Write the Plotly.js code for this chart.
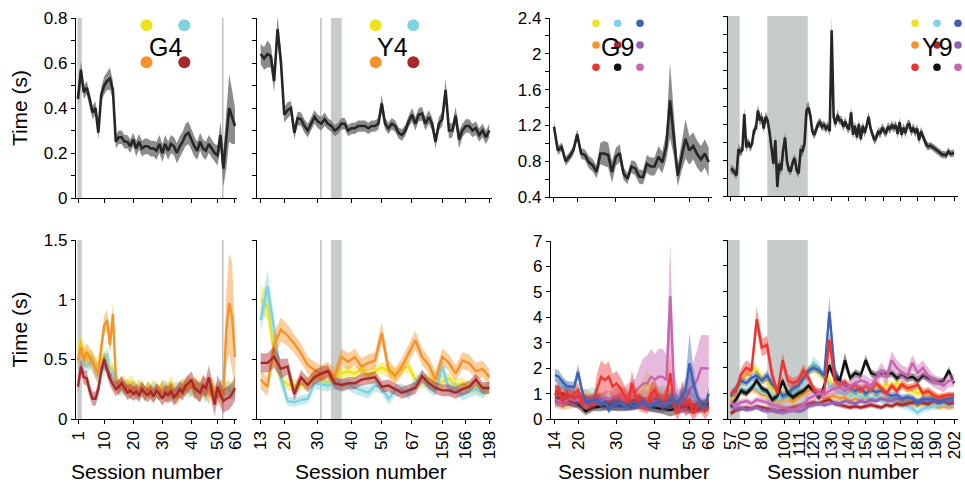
<!DOCTYPE html>
<html><head><meta charset="utf-8">
<script src="https://cdn.plot.ly/plotly-3.0.1.min.js"></script>
<style>html,body{margin:0;padding:0;background:#fff}#chart{width:965px;height:482px}</style>
</head><body><div id="chart"></div>
<script>
// ---------- tick labels (session numbers) ----------
const g4Ticks = ['1','10','20','30','40','50','60'];
const g4TickSlots = [0,9,19,29,39,48,54];
const y4Ticks = ['13','20','30','40','50','67','150','166','198'];
const y4TickSlots = [0,7,17,27,36,45,54,61,68];
const g9Ticks = ['14','20','30','40','50','60'];
const g9TickSlots = [0,6,16,26,35,40];
const y9Ticks = ['57','70','80','100','111','120','130','140','150','160','170','180','190','202'];
const y9TickSlots = [0,8,18,31,40,48,58,68,78,88,98,108,118,129];

// ---------- top row: mean time (s) and SEM ----------
const g4Mean = [0.44,0.57,0.47,0.49,0.44,0.38,0.40,0.29,0.46,0.50,
  0.52,0.53,0.48,0.25,0.27,0.27,0.25,0.25,0.23,0.26,
  0.22,0.25,0.22,0.23,0.23,0.22,0.22,0.21,0.24,0.20,
  0.24,0.21,0.24,0.23,0.20,0.23,0.25,0.28,0.29,0.26,
  0.23,0.21,0.25,0.22,0.21,0.24,0.22,0.20,0.19,0.28,
  0.13,0.25,0.40,0.36,0.32];
const g4Err = [0.03,0.04,0.03,0.03,0.03,0.03,0.03,0.03,0.03,0.04,
  0.04,0.05,0.04,0.03,0.03,0.03,0.03,0.03,0.03,0.03,
  0.035,0.035,0.035,0.035,0.035,0.035,0.035,0.04,0.04,0.04,
  0.04,0.04,0.04,0.04,0.045,0.045,0.045,0.05,0.05,0.045,
  0.045,0.04,0.04,0.04,0.04,0.04,0.04,0.04,0.045,0.06,
  0.08,0.12,0.15,0.12,0.08];

const y4Mean = [0.64,0.62,0.64,0.63,0.52,0.75,0.61,0.37,0.39,0.40,
  0.29,0.355,0.35,0.32,0.30,0.33,0.36,0.34,0.33,0.35,
  0.33,0.32,0.30,0.31,0.33,0.33,0.30,0.31,0.31,0.32,
  0.32,0.32,0.31,0.32,0.32,0.33,0.42,0.33,0.31,0.33,
  0.32,0.29,0.28,0.30,0.34,0.37,0.33,0.37,0.375,0.33,
  0.36,0.33,0.25,0.33,0.35,0.48,0.30,0.30,0.366,0.26,
  0.30,0.32,0.32,0.30,0.31,0.28,0.30,0.27,0.30];
const y4Err = [0.045,0.05,0.06,0.05,0.05,0.06,0.05,0.035,0.035,0.03,
  0.03,0.03,0.03,0.03,0.03,0.03,0.03,0.03,0.03,0.03,
  0.025,0.025,0.025,0.025,0.025,0.025,0.025,0.025,0.025,0.025,
  0.025,0.025,0.025,0.025,0.025,0.025,0.04,0.025,0.025,0.025,
  0.025,0.025,0.025,0.025,0.025,0.03,0.03,0.03,0.03,0.03,
  0.03,0.03,0.03,0.03,0.03,0.05,0.035,0.03,0.04,0.04,
  0.03,0.03,0.03,0.03,0.03,0.03,0.03,0.03,0.03];

const g9Mean = [1.185,0.92,0.96,0.80,0.85,0.92,1.10,0.886,0.87,0.79,
  0.755,0.68,0.886,0.886,0.87,0.68,0.85,0.89,0.66,0.605,
  0.74,0.72,0.63,0.62,0.77,0.74,0.74,0.85,0.785,0.96,
  1.48,1.07,0.64,0.85,1.05,0.92,0.97,0.88,0.82,0.886,
  0.79];
const g9Err = [0.06,0.05,0.05,0.05,0.05,0.05,0.06,0.06,0.06,0.07,
  0.07,0.07,0.12,0.14,0.14,0.12,0.10,0.10,0.07,0.06,
  0.07,0.08,0.08,0.08,0.10,0.10,0.10,0.12,0.12,0.15,
  0.42,0.22,0.12,0.16,0.22,0.16,0.15,0.15,0.15,0.16,
  0.16];

const y9Mean = [0.70,0.69,0.66,0.63,0.92,0.89,0.91,1.31,0.94,1.00,
  0.94,0.98,1.13,1.15,1.35,1.24,1.28,1.15,1.28,1.24,
  1.11,0.93,0.76,1.02,0.50,0.76,0.685,0.91,1.05,0.78,
  0.685,0.68,0.78,0.82,0.68,0.65,0.91,0.90,0.98,1.35,
  1.38,1.30,1.12,1.08,1.13,1.20,1.22,1.17,1.19,1.15,
  1.18,1.12,2.24,1.28,1.20,1.30,1.24,1.24,1.17,1.23,
  1.16,1.15,1.33,1.08,1.18,1.05,1.20,1.03,1.18,1.10,
  1.18,1.28,1.15,1.09,1.02,1.05,1.12,1.09,1.16,1.12,
  1.10,1.17,1.14,1.19,1.15,1.19,1.09,1.22,1.08,1.16,
  1.10,1.19,1.20,1.11,1.16,1.10,1.15,1.02,1.12,1.06,
  1.00,0.96,0.95,0.96,0.94,0.93,0.91,0.89,0.87,0.86,
  0.86,0.85,0.90,0.87,0.87,0.88];
const y9Err = [0.05,0.05,0.05,0.05,0.06,0.05,0.05,0.07,0.06,0.05,
  0.05,0.05,0.05,0.05,0.07,0.06,0.06,0.05,0.06,0.05,
  0.05,0.06,0.06,0.06,0.07,0.06,0.06,0.06,0.06,0.06,
  0.05,0.05,0.05,0.05,0.05,0.05,0.06,0.06,0.06,0.07,
  0.07,0.07,0.05,0.05,0.05,0.05,0.05,0.05,0.05,0.05,
  0.05,0.06,0.15,0.08,0.05,0.06,0.05,0.05,0.05,0.05,
  0.05,0.05,0.06,0.05,0.05,0.05,0.05,0.05,0.05,0.05,
  0.05,0.06,0.05,0.05,0.05,0.05,0.05,0.05,0.05,0.05,
  0.05,0.05,0.05,0.05,0.05,0.05,0.05,0.05,0.05,0.05,
  0.05,0.05,0.05,0.05,0.05,0.05,0.05,0.05,0.05,0.05,
  0.045,0.045,0.04,0.04,0.04,0.04,0.04,0.04,0.04,0.04,
  0.04,0.04,0.04,0.04,0.04,0.04];

// ---------- bottom row: per-colour time (s) and SEM ----------
// G4 (55 sessions)
const g4bYellow = [0.58,0.63,0.55,0.52,0.50,0.52,0.44,0.47,0.50,0.52,
  0.48,0.45,0.40,0.30,0.27,0.28,0.30,0.26,0.32,0.27,
  0.25,0.28,0.24,0.22,0.26,0.24,0.27,0.25,0.22,0.28,
  0.24,0.26,0.30,0.25,0.22,0.24,0.27,0.25,0.28,0.24,
  0.26,0.30,0.23,0.25,0.21,0.24,0.27,0.22,0.24,0.26,
  0.22,0.25,0.27,0.24,0.25];
const g4bYellowErr = [0.08,0.08,0.08,0.07,0.07,0.07,0.07,0.07,0.07,0.07,
  0.06,0.06,0.06,0.06,0.06,0.06,0.06,0.06,0.06,0.06,
  0.06,0.06,0.06,0.06,0.06,0.06,0.06,0.06,0.06,0.06,
  0.06,0.06,0.06,0.06,0.06,0.06,0.06,0.06,0.06,0.06,
  0.06,0.06,0.06,0.06,0.06,0.06,0.06,0.06,0.06,0.06,
  0.06,0.06,0.06,0.06,0.06];
const g4bCyan = [0.47,0.49,0.46,0.44,0.47,0.49,0.40,0.35,0.44,0.41,
  0.55,0.35,0.40,0.30,0.26,0.25,0.28,0.24,0.23,0.27,
  0.22,0.26,0.24,0.20,0.25,0.22,0.26,0.23,0.21,0.25,
  0.27,0.22,0.19,0.24,0.26,0.22,0.25,0.28,0.23,0.26,
  0.22,0.25,0.27,0.23,0.20,0.26,0.24,0.21,0.25,0.28,
  0.23,0.26,0.24,0.22,0.25];
const g4bCyanErr = [0.06,0.06,0.06,0.06,0.06,0.06,0.06,0.06,0.06,0.06,
  0.07,0.06,0.06,0.06,0.06,0.06,0.06,0.06,0.06,0.06,
  0.06,0.06,0.06,0.06,0.06,0.06,0.06,0.06,0.06,0.06,
  0.06,0.06,0.06,0.06,0.06,0.06,0.06,0.06,0.06,0.06,
  0.06,0.06,0.06,0.06,0.06,0.06,0.06,0.06,0.06,0.06,
  0.06,0.06,0.06,0.06,0.06];
const g4bOrange = [0.49,0.60,0.49,0.56,0.52,0.47,0.42,0.38,0.60,0.78,
  0.83,0.62,0.88,0.35,0.26,0.30,0.25,0.28,0.22,0.26,
  0.24,0.22,0.27,0.21,0.25,0.23,0.20,0.24,0.22,0.26,
  0.20,0.23,0.25,0.21,0.18,0.24,0.27,0.25,0.30,0.26,
  0.28,0.24,0.22,0.30,0.25,0.20,0.28,0.22,0.18,0.25,
  0.20,0.75,0.97,0.86,0.52];
const g4bOrangeErr = [0.08,0.08,0.08,0.08,0.08,0.08,0.08,0.08,0.08,0.08,
  0.09,0.09,0.09,0.07,0.06,0.06,0.06,0.06,0.06,0.06,
  0.06,0.06,0.06,0.06,0.06,0.06,0.06,0.06,0.06,0.06,
  0.07,0.07,0.07,0.07,0.07,0.07,0.07,0.07,0.07,0.07,
  0.08,0.08,0.08,0.08,0.08,0.08,0.08,0.08,0.08,0.08,
  0.12,0.30,0.42,0.45,0.25];
const g4bDarkred = [0.27,0.44,0.35,0.34,0.24,0.17,0.17,0.25,0.40,0.50,
  0.41,0.34,0.29,0.25,0.27,0.30,0.26,0.22,0.24,0.21,
  0.23,0.20,0.25,0.22,0.20,0.23,0.19,0.24,0.21,0.17,
  0.22,0.20,0.23,0.18,0.21,0.25,0.22,0.28,0.30,0.33,
  0.26,0.24,0.22,0.28,0.26,0.35,0.24,0.12,0.27,0.20,
  0.15,0.17,0.18,0.21,0.26];
const g4bDarkredErr = [0.06,0.06,0.06,0.06,0.06,0.06,0.06,0.06,0.06,0.06,
  0.06,0.06,0.06,0.06,0.06,0.06,0.06,0.06,0.06,0.06,
  0.06,0.06,0.06,0.06,0.06,0.06,0.06,0.06,0.06,0.06,
  0.07,0.07,0.07,0.07,0.07,0.07,0.07,0.07,0.07,0.07,
  0.08,0.08,0.08,0.08,0.08,0.10,0.10,0.10,0.10,0.10,
  0.10,0.10,0.10,0.10,0.10];

// Y4 (every other session slot, 35 points)
const y4bYellow = [1.00,0.95,0.55,0.33,0.29,0.28,0.29,0.30,0.36,0.34,
  0.30,0.36,0.38,0.40,0.38,0.42,0.36,0.40,0.43,0.40,
  0.37,0.42,0.44,0.33,0.30,0.34,0.29,0.31,0.34,0.28,
  0.30,0.26,0.27,0.24,0.26];
const y4bYellowErr = [0.12,0.12,0.10,0.06,0.05,0.05,0.05,0.05,0.05,0.05,
  0.05,0.05,0.05,0.05,0.05,0.05,0.05,0.05,0.05,0.05,
  0.05,0.05,0.05,0.05,0.05,0.05,0.05,0.05,0.05,0.05,
  0.05,0.05,0.05,0.05,0.05];
const y4bCyan = [0.83,1.11,0.75,0.35,0.15,0.14,0.16,0.17,0.30,0.29,
  0.28,0.30,0.27,0.29,0.26,0.24,0.22,0.28,0.26,0.17,
  0.24,0.25,0.21,0.30,0.35,0.27,0.24,0.44,0.25,0.26,
  0.20,0.23,0.25,0.22,0.27];
const y4bCyanErr = [0.10,0.14,0.12,0.08,0.04,0.04,0.04,0.04,0.05,0.05,
  0.05,0.05,0.05,0.05,0.05,0.05,0.05,0.05,0.05,0.05,
  0.05,0.05,0.05,0.05,0.06,0.05,0.05,0.08,0.05,0.05,
  0.05,0.05,0.05,0.05,0.05];
const y4bOrange = [0.33,0.27,0.62,0.75,0.70,0.63,0.55,0.45,0.41,0.38,
  0.41,0.36,0.52,0.48,0.52,0.44,0.47,0.49,0.72,0.42,
  0.36,0.44,0.55,0.66,0.52,0.45,0.33,0.52,0.47,0.38,
  0.49,0.47,0.40,0.42,0.35];
const y4bOrangeErr = [0.08,0.08,0.10,0.10,0.09,0.08,0.08,0.07,0.07,0.07,
  0.07,0.07,0.07,0.07,0.07,0.07,0.07,0.07,0.09,0.07,
  0.07,0.07,0.07,0.08,0.07,0.07,0.07,0.07,0.07,0.07,
  0.07,0.07,0.07,0.07,0.07];
const y4bDarkred = [0.47,0.47,0.52,0.42,0.44,0.21,0.35,0.285,0.35,0.38,
  0.40,0.30,0.285,0.30,0.30,0.33,0.34,0.35,0.27,0.28,
  0.25,0.22,0.24,0.26,0.36,0.30,0.26,0.24,0.24,0.22,
  0.25,0.27,0.33,0.26,0.26];
const y4bDarkredErr = [0.08,0.08,0.09,0.08,0.07,0.06,0.06,0.06,0.06,0.06,
  0.05,0.05,0.05,0.05,0.05,0.05,0.05,0.05,0.05,0.05,
  0.05,0.05,0.05,0.05,0.05,0.05,0.05,0.05,0.05,0.05,
  0.05,0.05,0.05,0.05,0.05];

// G9 (41 sessions for blue/red/pink, every other for the rest)
const g9bBlue = [1.73,1.66,1.45,1.30,1.27,1.27,1.86,1.14,0.68,0.72,
  0.75,0.75,0.62,0.68,0.35,0.55,0.58,0.62,0.50,0.48,
  0.55,0.51,0.58,0.65,0.55,0.48,0.62,0.68,0.55,0.50,
  0.81,0.75,0.68,0.88,1.14,2.19,1.40,0.88,0.55,0.48,
  1.00];
const g9bBlueErr = [0.25,0.25,0.22,0.20,0.20,0.20,0.30,0.20,0.15,0.15,
  0.15,0.15,0.15,0.15,0.15,0.15,0.15,0.15,0.15,0.15,
  0.15,0.15,0.15,0.15,0.15,0.15,0.20,0.20,0.20,0.20,
  0.25,0.25,0.25,0.30,0.50,1.20,0.60,0.30,0.20,0.20,
  0.25];
const g9bRed = [0.94,1.20,0.68,1.07,0.88,1.00,1.14,0.62,0.70,0.60,
  0.65,1.20,1.66,1.53,1.66,1.27,1.40,1.20,0.95,0.62,
  1.40,0.88,0.60,0.55,0.50,1.00,1.14,0.80,0.62,0.90,
  1.80,0.50,0.22,1.00,0.60,0.75,0.20,0.48,0.55,0.29,
  0.48];
const g9bRedErr = [0.30,0.30,0.30,0.30,0.30,0.30,0.30,0.30,0.30,0.30,
  0.30,0.60,0.65,0.60,0.60,0.50,0.50,0.45,0.40,0.30,
  0.50,0.40,0.30,0.30,0.30,0.40,0.40,0.30,0.30,0.35,
  0.80,0.30,0.30,0.50,0.50,0.50,0.30,0.30,0.30,0.30,
  0.30];
const g9bPink = [0.75,0.70,0.65,0.72,0.80,0.70,0.78,0.65,0.60,0.72,
  0.68,0.75,0.70,0.82,0.78,0.85,0.90,0.95,0.85,1.00,
  1.05,1.10,1.25,1.40,1.40,1.66,1.55,1.66,1.66,1.53,
  4.83,1.14,0.68,0.75,0.75,1.14,1.30,1.53,2.00,2.00,
  1.99];
const g9bPinkErr = [0.20,0.20,0.20,0.20,0.20,0.20,0.20,0.20,0.20,0.20,
  0.20,0.20,0.25,0.30,0.30,0.30,0.35,0.40,0.40,0.40,
  0.45,0.50,0.80,1.00,1.10,1.10,1.00,1.10,1.10,1.00,
  2.10,0.70,0.50,0.50,0.50,0.60,0.90,1.20,1.30,1.30,
  1.30];
const g9bYellow = [0.90,0.75,0.80,0.70,0.65,0.60,0.70,0.75,0.80,0.90,0.85,0.95,1.40,1.00,0.90,0.80,0.60,0.70,0.50,0.55,0.60];
const g9bYellowErr = [0.25,0.20,0.20,0.20,0.20,0.20,0.20,0.25,0.30,0.35,0.30,0.30,0.50,0.35,0.30,0.30,0.25,0.25,0.20,0.20,0.20];
const g9bCyan = [1.25,1.30,1.10,1.00,0.90,1.00,0.85,0.80,0.75,0.70,0.65,0.70,0.80,0.85,1.00,0.90,0.80,0.85,0.70,0.60,0.65];
const g9bCyanErr = [0.30,0.30,0.25,0.25,0.25,0.25,0.20,0.20,0.20,0.20,0.20,0.25,0.25,0.30,0.35,0.30,0.30,0.30,0.25,0.20,0.20];
const g9bOrange = [0.65,0.50,0.60,0.75,0.90,0.70,0.80,0.65,0.70,0.90,0.75,0.80,0.85,1.00,0.75,0.90,0.60,0.55,0.45,0.50,0.60];
const g9bOrangeErr = [0.20,0.15,0.20,0.25,0.30,0.25,0.25,0.20,0.25,0.30,0.30,0.30,0.30,0.35,0.30,0.30,0.25,0.20,0.20,0.20,0.20];
const g9bDarkred = [1.10,1.00,0.85,0.90,0.70,0.75,0.80,0.65,0.70,0.60,0.75,0.70,0.65,0.80,0.70,0.75,0.50,0.60,0.55,0.45,0.50];
const g9bDarkredErr = [0.25,0.25,0.20,0.20,0.20,0.20,0.20,0.20,0.20,0.20,0.20,0.20,0.20,0.25,0.25,0.25,0.20,0.20,0.20,0.20,0.20];
const g9bPurple = [0.70,0.65,0.75,0.60,0.55,0.50,0.55,0.45,0.50,0.50,0.45,0.55,0.50,0.45,0.40,0.50,0.45,0.40,0.35,0.40,0.45];
const g9bPurpleErr = [0.20,0.20,0.20,0.15,0.15,0.15,0.15,0.15,0.15,0.15,0.15,0.15,0.15,0.15,0.15,0.20,0.20,0.20,0.15,0.15,0.15];
const g9bBlack = [0.85,0.80,0.70,0.60,0.30,0.45,0.50,0.55,0.60,0.50,0.55,0.70,0.50,0.45,0.40,0.35,0.45,0.50,0.40,0.55,0.60];
const g9bBlackErr = [0.20,0.20,0.20,0.20,0.15,0.15,0.20,0.20,0.30,0.20,0.20,0.30,0.20,0.20,0.20,0.25,0.25,0.20,0.20,0.20,0.20];

// Y9 (every third session slot, 44 points)
const y9bRed = [1.00,1.07,1.75,2.00,1.90,3.90,2.80,2.90,1.70,1.00,
  2.30,1.50,1.40,1.50,1.90,1.60,1.15,1.05,1.05,3.10,
  1.50,1.30,1.45,1.20,1.35,1.10,1.30,1.15,1.40,1.20,
  1.00,1.30,1.10,1.35,1.20,1.25,1.35,1.00,1.10,0.95,
  0.85,0.90,0.95,0.95];
const y9bRedErr = [0.15,0.20,0.25,0.30,0.25,0.50,0.35,0.35,0.30,0.20,
  0.30,0.25,0.20,0.20,0.25,0.20,0.15,0.15,0.15,0.30,
  0.20,0.15,0.15,0.15,0.15,0.15,0.15,0.15,0.15,0.15,
  0.15,0.15,0.15,0.15,0.15,0.15,0.15,0.15,0.15,0.15,
  0.12,0.12,0.12,0.12];
const y9bBlue = [0.90,1.20,1.50,1.40,1.60,1.70,1.50,1.70,1.35,1.20,
  0.90,1.00,1.20,1.30,1.60,1.90,2.00,1.90,1.70,4.20,
  1.90,1.50,1.30,1.20,1.10,1.20,1.00,1.15,1.05,1.10,
  1.00,0.90,0.95,0.80,0.85,0.80,0.60,0.80,0.75,0.80,
  0.70,0.75,0.80,0.85];
const y9bBlueErr = [0.15,0.15,0.15,0.15,0.15,0.20,0.15,0.20,0.15,0.15,
  0.15,0.15,0.15,0.15,0.15,0.15,0.15,0.15,0.15,0.60,
  0.20,0.15,0.15,0.15,0.15,0.15,0.15,0.15,0.15,0.15,
  0.15,0.15,0.15,0.15,0.15,0.15,0.15,0.15,0.15,0.15,
  0.15,0.15,0.15,0.15];
const y9bBlack = [0.50,0.75,1.10,1.00,1.20,1.50,1.20,1.10,0.75,0.90,
  1.50,1.00,0.85,1.00,1.10,1.30,1.10,0.80,1.30,2.10,
  1.60,1.50,2.30,1.60,1.80,1.70,2.30,1.80,1.70,1.80,
  1.75,1.80,1.60,1.75,1.60,1.65,1.50,1.70,1.60,1.50,
  1.45,1.50,1.90,1.40];
const y9bBlackErr = [0.12,0.12,0.12,0.12,0.12,0.15,0.12,0.12,0.12,0.12,
  0.15,0.12,0.12,0.12,0.12,0.12,0.12,0.12,0.12,0.20,
  0.15,0.15,0.30,0.15,0.15,0.15,0.20,0.15,0.15,0.15,
  0.15,0.15,0.15,0.15,0.15,0.15,0.15,0.15,0.15,0.15,
  0.12,0.12,0.15,0.12];
const y9bPink = [0.60,0.55,0.65,0.70,0.60,0.75,0.70,0.65,0.55,0.50,
  0.45,0.40,0.35,0.45,0.55,0.80,0.90,1.00,0.95,1.10,
  1.20,1.25,1.10,1.30,1.40,1.50,1.45,1.30,1.60,1.90,
  1.60,2.30,2.00,1.80,1.70,2.20,1.80,2.00,1.70,1.50,
  1.40,1.30,1.50,1.50];
const y9bPinkErr = [0.12,0.12,0.12,0.12,0.12,0.12,0.12,0.12,0.12,0.12,
  0.12,0.12,0.12,0.12,0.15,0.20,0.20,0.20,0.20,0.20,
  0.25,0.25,0.25,0.25,0.25,0.25,0.25,0.25,0.25,0.30,
  0.30,0.35,0.30,0.30,0.30,0.30,0.30,0.30,0.30,0.25,
  0.25,0.25,0.25,0.25];
const y9bYellow = [0.80,1.10,1.40,1.70,2.00,1.90,1.60,1.50,1.20,1.10,
  1.00,0.90,1.10,1.30,1.70,1.90,2.00,1.80,1.60,1.50,
  1.30,1.20,1.10,1.00,1.10,1.20,1.00,1.10,1.30,1.20,
  1.35,1.25,1.40,1.30,1.20,1.10,1.00,1.05,0.95,0.90,
  0.85,0.90,0.80,0.85];
const y9bYellowErr = [0.20,0.20,0.20,0.20,0.20,0.20,0.20,0.20,0.20,0.20,
  0.20,0.20,0.20,0.20,0.20,0.20,0.20,0.20,0.20,0.20,
  0.20,0.20,0.20,0.20,0.20,0.20,0.20,0.20,0.20,0.20,
  0.20,0.20,0.20,0.20,0.20,0.20,0.20,0.20,0.20,0.20,
  0.15,0.15,0.15,0.15];
const y9bCyan = [0.90,1.00,1.20,1.10,1.30,1.20,1.10,1.00,0.90,0.80,
  0.85,0.90,1.00,1.20,1.50,1.80,2.20,2.00,1.60,1.30,
  1.20,1.00,1.10,0.90,1.00,0.85,0.90,0.80,0.85,0.75,
  0.70,0.80,0.60,0.55,0.50,0.40,0.25,0.40,0.45,0.50,
  0.55,0.60,0.55,0.60];
const y9bCyanErr = [0.15,0.15,0.15,0.15,0.15,0.15,0.15,0.15,0.15,0.15,
  0.15,0.15,0.15,0.15,0.20,0.20,0.25,0.20,0.20,0.15,
  0.15,0.15,0.15,0.15,0.15,0.15,0.15,0.15,0.15,0.15,
  0.15,0.15,0.15,0.15,0.15,0.15,0.15,0.15,0.15,0.15,
  0.15,0.15,0.15,0.15];
const y9bOrange = [0.70,0.90,1.10,1.00,1.20,1.10,0.95,0.90,0.80,0.70,
  0.75,0.80,0.70,0.85,1.00,1.10,1.20,0.90,0.80,0.85,
  0.90,0.80,0.85,0.70,0.80,0.75,0.85,0.70,0.90,0.80,
  0.75,0.85,0.70,0.65,0.70,0.60,0.55,0.60,0.50,0.55,
  0.45,0.50,0.45,0.50];
const y9bOrangeErr = [0.15,0.15,0.15,0.15,0.15,0.15,0.15,0.15,0.15,0.15,
  0.15,0.15,0.15,0.15,0.15,0.15,0.15,0.15,0.15,0.15,
  0.15,0.15,0.15,0.15,0.15,0.15,0.15,0.15,0.15,0.15,
  0.15,0.15,0.15,0.15,0.15,0.15,0.12,0.12,0.12,0.12,
  0.12,0.12,0.12,0.12];
const y9bDarkred = [0.22,0.35,0.40,0.45,0.40,0.50,0.45,0.40,0.35,0.30,
  0.35,0.40,0.45,0.50,0.55,0.60,0.65,0.60,0.70,0.75,
  0.60,0.55,0.50,0.45,0.50,0.45,0.50,0.55,0.50,0.45,
  0.55,0.50,0.60,0.55,0.60,0.65,0.70,0.65,0.60,0.70,
  0.65,0.70,0.60,0.65];
const y9bDarkredErr = [0.10,0.10,0.10,0.10,0.10,0.10,0.10,0.10,0.10,0.10,
  0.10,0.10,0.10,0.10,0.10,0.10,0.10,0.10,0.10,0.10,
  0.10,0.10,0.10,0.10,0.10,0.10,0.10,0.10,0.10,0.10,
  0.10,0.10,0.10,0.10,0.10,0.10,0.10,0.10,0.10,0.10,
  0.10,0.10,0.10,0.10];
const y9bPurple = [0.50,0.40,0.45,0.35,0.40,0.45,0.35,0.30,0.35,0.30,
  0.25,0.30,0.35,0.30,0.35,0.50,0.55,0.60,0.55,0.60,
  0.65,0.60,0.70,0.65,0.60,0.70,0.65,0.75,0.70,0.80,
  0.75,0.70,0.80,0.75,0.85,0.80,0.70,0.75,0.80,0.75,
  0.70,0.75,0.70,0.75];
const y9bPurpleErr = [0.10,0.10,0.10,0.10,0.10,0.10,0.10,0.10,0.10,0.10,
  0.10,0.10,0.10,0.10,0.10,0.10,0.10,0.10,0.10,0.10,
  0.10,0.10,0.10,0.10,0.10,0.10,0.10,0.10,0.10,0.10,
  0.10,0.10,0.10,0.10,0.10,0.10,0.10,0.10,0.10,0.10,
  0.10,0.10,0.10,0.10];

// ---------- styling ----------
const COL = {yellow:'#efe11c', cyan:'#7fd2e0', orange:'#f4932a', darkred:'#a8272b', blue:'#3e63b6',
  purple:'#9462b4', red:'#ee3431', black:'#111111', pink:'#c865b1'};
const FONT = 'Liberation Sans, Arial, Helvetica, sans-serif';
const W = 965, H = 482;

function hexA(hex, a){
  const n = parseInt(hex.slice(1),16);
  return 'rgba('+((n>>16)&255)+','+((n>>8)&255)+','+(n&255)+','+a+')';
}
const traces = [];
function addSeries(ax, vals, errs, span, color, fill, width){
  const n = vals.length;
  const xs = vals.map((v,i)=> n>1 ? i*span/(n-1) : 0);
  const up = vals.map((v,i)=> v + (errs[i] ?? errs[errs.length-1]));
  const lo = vals.map((v,i)=> v - (errs[i] ?? errs[errs.length-1]));
  traces.push({type:'scatter', mode:'lines', x: xs.concat(xs.slice().reverse()),
    y: up.concat(lo.slice().reverse()), fill:'toself', fillcolor: fill, line:{width:0},
    xaxis:'x'+ax, yaxis:'y'+ax, hoverinfo:'skip', showlegend:false});
  traces.push({type:'scatter', mode:'lines', x: xs, y: vals, line:{color:color, width:width},
    xaxis:'x'+ax, yaxis:'y'+ax, hoverinfo:'skip', showlegend:false});
}
const topFill = 'rgba(120,120,120,0.85)', topLine = '#262626';
addSeries('', g4Mean, g4Err, 54, topLine, topFill, 2.6);
addSeries('2', y4Mean, y4Err, 68, topLine, topFill, 2.6);
addSeries('3', g9Mean, g9Err, 40, topLine, topFill, 2.6);
addSeries('4', y9Mean, y9Err, 129, topLine, topFill, 2.6);

function addColour(ax, vals, errs, span, c){ addSeries(ax, vals, errs, span, COL[c], hexA(COL[c],0.45), 2.4); }
addColour('5', g4bYellow, g4bYellowErr, 54, 'yellow');
addColour('5', g4bCyan, g4bCyanErr, 54, 'cyan');
addColour('5', g4bOrange, g4bOrangeErr, 54, 'orange');
addColour('5', g4bDarkred, g4bDarkredErr, 54, 'darkred');

addColour('6', y4bYellow, y4bYellowErr, 68, 'yellow');
addColour('6', y4bCyan, y4bCyanErr, 68, 'cyan');
addColour('6', y4bOrange, y4bOrangeErr, 68, 'orange');
addColour('6', y4bDarkred, y4bDarkredErr, 68, 'darkred');

addColour('7', g9bYellow, g9bYellowErr, 40, 'yellow');
addColour('7', g9bCyan, g9bCyanErr, 40, 'cyan');
addColour('7', g9bOrange, g9bOrangeErr, 40, 'orange');
addColour('7', g9bDarkred, g9bDarkredErr, 40, 'darkred');
addColour('7', g9bPurple, g9bPurpleErr, 40, 'purple');
addColour('7', g9bBlack, g9bBlackErr, 40, 'black');
addColour('7', g9bPink, g9bPinkErr, 40, 'pink');
addColour('7', g9bRed, g9bRedErr, 40, 'red');
addColour('7', g9bBlue, g9bBlueErr, 40, 'blue');

addColour('8', y9bOrange, y9bOrangeErr, 129, 'orange');
addColour('8', y9bYellow, y9bYellowErr, 129, 'yellow');
addColour('8', y9bCyan, y9bCyanErr, 129, 'cyan');
addColour('8', y9bDarkred, y9bDarkredErr, 129, 'darkred');
addColour('8', y9bPurple, y9bPurpleErr, 129, 'purple');
addColour('8', y9bBlue, y9bBlueErr, 129, 'blue');
addColour('8', y9bBlack, y9bBlackErr, 129, 'black');
addColour('8', y9bRed, y9bRedErr, 129, 'red');
addColour('8', y9bPink, y9bPinkErr, 129, 'pink');

// ---------- axes ----------
const layout = {width:W, height:H, margin:{l:0,r:0,t:0,b:0}, paper_bgcolor:'#fff', plot_bgcolor:'rgba(0,0,0,0)',
  font:{family:FONT, color:'#000', size:17}, showlegend:false, shapes:[], annotations:[]};
const xd = px => [px[0]/W, px[1]/W];
const yd = py => [1-py[1]/H, 1-py[0]/H];
function xAxis(id, px, range, vals, text, labels, yid){
  return {domain:xd(px), range:range, anchor:yid, showline:true, linecolor:'#000', linewidth:1.2,
    ticks:'outside', ticklen:4, tickwidth:1, tickcolor:'#000', showgrid:false, zeroline:false,
    tickmode:'array', tickvals:vals, ticktext:text, showticklabels:labels, tickangle:-90,
    ticklabeloverflow:'allow', tickfont:{family:FONT, size:17, color:'#000'}, fixedrange:true};
}
function yAxis(py, range, opts, xid){
  return Object.assign({domain:yd(py), range:range, anchor:xid, showline:true, linecolor:'#000', linewidth:1.2,
    ticks:'outside', ticklen:4, tickwidth:1, tickcolor:'#000', showgrid:false, zeroline:false,
    tickfont:{family:FONT, size:17, color:'#000'}, fixedrange:true}, opts);
}
const minorT = d => ({dtick:d, ticks:'outside', ticklen:4, tickwidth:1, tickcolor:'#000'});
const yTitle = {text:'Time (s)', font:{family:FONT, size:21, color:'#000'}, standoff:10};

const Y9PX = [728,958], Y9R = [-1.56,131.3];
layout.xaxis  = xAxis(1, [76,237], [-0.69,54.69], g4TickSlots, g4Ticks, false, 'y');
layout.xaxis2 = xAxis(2, [257,492], [-1.1,68.8], y4TickSlots, y4Ticks, false, 'y2');
layout.xaxis3 = xAxis(3, [550,712], [-1.03,40.85], g9TickSlots, g9Ticks, false, 'y3');
layout.xaxis4 = xAxis(4, Y9PX, Y9R, y9TickSlots, y9Ticks, false, 'y4');
layout.xaxis5 = xAxis(5, [76,237], [-0.69,54.69], g4TickSlots, g4Ticks, true, 'y5');
layout.xaxis6 = xAxis(6, [257,492], [-1.1,68.8], y4TickSlots, y4Ticks, true, 'y6');
layout.xaxis7 = xAxis(7, [551,712], [-1.03,40.85], g9TickSlots, g9Ticks, true, 'y7');
layout.xaxis8 = xAxis(8, Y9PX, Y9R, y9TickSlots, y9Ticks, true, 'y8');

layout.yaxis  = yAxis([18,198], [0,0.8], {tickmode:'linear', tick0:0, dtick:0.2, minor:minorT(0.1), title:yTitle}, 'x');
layout.yaxis2 = yAxis([18,198], [0,0.8], {tickmode:'linear', tick0:0, dtick:0.1, showticklabels:false}, 'x2');
layout.yaxis3 = yAxis([18,197], [0.4,2.4], {tickmode:'array', tickvals:[0.4,0.8,1.2,1.6,2,2.4], ticktext:['0.4','0.8','1.2','1.6','2','2.4'], minor:minorT(0.2)}, 'x3');
layout.yaxis4 = yAxis([16,196], [0.4,2.4], {tickmode:'linear', tick0:0.4, dtick:0.2, showticklabels:false}, 'x4');
layout.yaxis5 = yAxis([240,419], [0,1.5], {tickmode:'linear', tick0:0, dtick:0.5, title:yTitle}, 'x5');
layout.yaxis6 = yAxis([240,419], [0,1.5], {tickmode:'linear', tick0:0, dtick:0.5, showticklabels:false}, 'x6');
layout.yaxis7 = yAxis([241,419], [0,7], {tickmode:'linear', tick0:0, dtick:1}, 'x7');
layout.yaxis8 = yAxis([240,419], [0,7], {tickmode:'linear', tick0:0, dtick:1, showticklabels:false}, 'x8');

// ---------- shaded sessions ----------
const SHADE = '#c6cbcb', THIN = '#c4c4c4';
function band(ax, x0, x1){ layout.shapes.push({type:'rect', layer:'below', xref:'x'+ax, yref:'y'+ax+' domain', x0:x0, x1:x1, y0:0, y1:1, fillcolor:SHADE, line:{width:0}}); }
function vline(ax, x){ layout.shapes.push({type:'line', layer:'below', xref:'x'+ax, yref:'y'+ax+' domain', x0:x, x1:x, y0:0, y1:1, line:{color:THIN, width:1.6}}); }
['', '5'].forEach(a=>{ band(a, -0.2, 1.3); vline(a, 49.8); });
['2', '6'].forEach(a=>{ vline(a, 17.9); band(a, 20.9, 24.1); });
['4', '8'].forEach(a=>{ band(a, -1.56, 5.2); band(a, 21.1, 44.5); });

// ---------- colour keys, group labels, x titles ----------
function dot(px, py, r, c){
  layout.shapes.push({type:'circle', xref:'paper', yref:'paper', xsizemode:'pixel', ysizemode:'pixel',
    xanchor:px/W, yanchor:1-py/H, x0:-r, x1:r, y0:-r, y1:r, fillcolor:COL[c], line:{width:0}});
}
function label(px, py, t, size){
  layout.annotations.push({xref:'paper', yref:'paper', x:px/W, y:1-py/H, xanchor:'center', yanchor:'middle',
    text:t, showarrow:false, font:{family:FONT, size:size, color:'#000'}});
}
const key4 = [['yellow','cyan'],['orange','darkred']];
[[146.5,184.3,'G4',165],[375.7,413.3,'Y4',392.3]].forEach(([x1,x2,t,lx])=>{
  dot(x1,25.3,6,key4[0][0]); dot(x2,25.3,6,key4[0][1]);
  dot(x1,62.3,6,key4[1][0]); dot(x2,62.3,6,key4[1][1]);
  label(lx, 46.7, t, 25);
});
const key9 = [['yellow','cyan','blue'],['orange','darkred','purple'],['red','black','pink']];
[[596,617.7,640,'G9'],[915,937,958,'Y9']].forEach(([a,b,c,t])=>{
  const xs=[a,b,c], ys=[23.3,45,67.3];
  key9.forEach((row,ri)=>row.forEach((col,ci)=>dot(xs[ci], ys[ri], 3.8, col)));
  label(b, 46.7, t, 25);
});
[147, 371, 634, 843].forEach(x => label(x, 471.5, 'Session number', 21));

Plotly.newPlot('chart', traces, layout, {staticPlot:true, displayModeBar:false});
</script>
</body></html>
